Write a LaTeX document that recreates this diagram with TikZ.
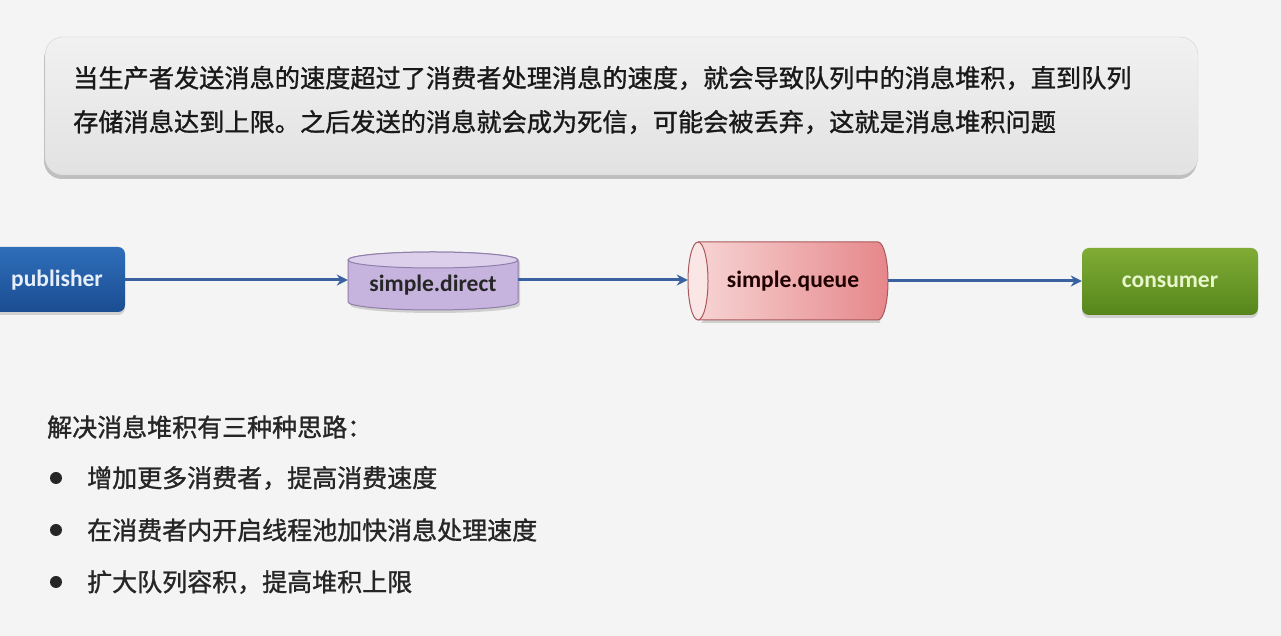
\documentclass[tikz,border=0pt]{standalone}
\usepackage{fontspec}
\setmainfont{Carlito}
\newfontfamily\cjk[FakeBold=1.2]{Noto Sans CJK SC}
\usetikzlibrary{shadows,arrows.meta}
\definecolor{bgc}{HTML}{F4F4F4}
\definecolor{boxtop}{HTML}{F1F1F1}
\definecolor{boxbot}{HTML}{E2E2E2}
\definecolor{pubtop}{HTML}{2F6EBA}
\definecolor{pubbot}{HTML}{1A4D92}
\definecolor{pubtxt}{HTML}{E6EEFA}
\definecolor{sdbody}{HTML}{C6B3DE}
\definecolor{sdtop}{HTML}{DCCFEC}
\definecolor{sdline}{HTML}{8F7FA9}
\definecolor{sqleft}{HTML}{F7D3D3}
\definecolor{sqright}{HTML}{E6878A}
\definecolor{sqface}{HTML}{FBE6E6}
\definecolor{sqline}{HTML}{A9595C}
\definecolor{contop}{HTML}{80AC36}
\definecolor{conbot}{HTML}{56861B}
\definecolor{contxt}{HTML}{E8F6CC}
\definecolor{arrc}{HTML}{3A62A0}
\definecolor{txtc}{HTML}{262626}
\tikzset{
  flowbox/.style={rounded corners=7pt, minimum height=65pt, inner sep=0pt,
    drop shadow={shadow xshift=0pt, shadow yshift=-3pt, opacity=0.3}},
  arr/.style={draw=arrc, line width=3pt, -{Stealth[length=11pt,width=11pt]}},
  lbl/.style={inner sep=0pt, font=\fontsize{23.5}{26}\bfseries\selectfont},
  cntext/.style={anchor=west, inner sep=0pt, text=txtc, font=\cjk\fontsize{25}{30}\selectfont},
  dot/.style={circle, fill=black!85, inner sep=0pt, minimum size=12pt}
}
\begin{document}
\begin{tikzpicture}[x=1pt,y=1pt]
\useasboundingbox (0,0) rectangle (1281,636);
\fill[bgc] (0,0) rectangle (1281,636);
% top box
\node[draw=black!18, rounded corners=18pt, top color=boxtop, bottom color=boxbot,
  minimum width=1153pt, minimum height=138pt, inner sep=0pt,
  drop shadow={shadow xshift=-1pt, shadow yshift=-4pt, opacity=0.45}] (top) at (621.5,530) {};
\node[anchor=west, align=left, inner sep=0pt, text=black!90, font=\cjk\fontsize{25.2}{44}\selectfont] (toptxt) at (73,536)
  {当生产者发送消息的速度超过了消费者处理消息的速度，就会导致队列中的消息堆积，直到队列\\
   存储消息达到上限。之后发送的消息就会成为死信，可能会被丢弃，这就是消息堆积问题};
% publisher
\node[flowbox, top color=pubtop, bottom color=pubbot, minimum width=145pt] (pub) at (52.5,356.5) {};
\node[lbl, text=pubtxt] (publbl) at (57,355.5) {publisher};
% simple.direct cylinder
\fill[black, opacity=0.15] (350,331) -- (350,374) arc[start angle=180,end angle=0,x radius=85,y radius=8] -- (520,331) arc[start angle=0,end angle=-180,x radius=85,y radius=8] -- cycle;
\filldraw[fill=sdbody, draw=sdline, line width=1pt] (348,334) -- (348,376) arc[start angle=180,end angle=0,x radius=85,y radius=8] -- (518,334) arc[start angle=0,end angle=-180,x radius=85,y radius=8] -- cycle;
\filldraw[fill=sdtop, draw=sdline, line width=1pt] (433,376) ellipse[x radius=85, y radius=8];
\node[inner sep=0pt, minimum width=170pt, minimum height=57pt] (sd) at (433,356) {};
\node[lbl, text=txtc] (sdlbl) at (433,351) {simple.direct};
% simple.queue cylinder
\fill[black, opacity=0.15] (700,313) arc[start angle=-90,end angle=90,x radius=10,y radius=39] -- (880,391) -- (880,313) -- cycle;
\shade[left color=sqleft, right color=sqright] (698,316) -- (878,316) arc[start angle=-90,end angle=90,x radius=10,y radius=39] -- (698,394) -- cycle;
\draw[sqline, line width=1pt] (698,316) -- (878,316) arc[start angle=-90,end angle=90,x radius=10,y radius=39] -- (698,394);
\filldraw[fill=sqface, draw=sqline, line width=1pt] (698,355) ellipse[x radius=10, y radius=39];
\node[inner sep=0pt, minimum width=200pt, minimum height=78pt] (sq) at (788,355) {};
\node[lbl, text=black!80!red!60!black] (sqlbl) at (793,355) {simple.queue};
% consumer
\node[flowbox, top color=contop, bottom color=conbot, minimum width=176pt, minimum height=67pt] (con) at (1170,354.5) {};
\node[lbl, text=contxt] (conlbl) at (1170,354) {consumer};
% arrows
\draw[arr] (pub.east |- 0,356) -- (sd.west |- 0,356);
\draw[arr] (sd.east |- 0,356) -- (sq.west |- 0,356);
\draw[arr] (sq.east |- 0,355) -- (con.west |- 0,355);
% bottom text
\node[cntext] (head) at (47,209) {解决消息堆积有三种种思路：};
\node[dot] (d1) at (56,158) {};
\node[cntext] (i1) at (87,158) {增加更多消费者，提高消费速度};
\node[dot] (d2) at (56,106) {};
\node[cntext] (i2) at (87,106) {在消费者内开启线程池加快消息处理速度};
\node[dot] (d3) at (56,54) {};
\node[cntext] (i3) at (87,54) {扩大队列容积，提高堆积上限};
\end{tikzpicture}
\end{document}
